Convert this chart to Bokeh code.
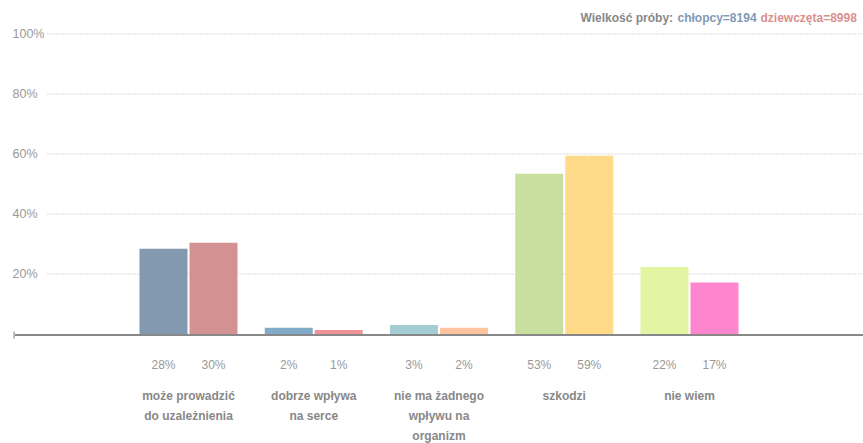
from bokeh.plotting import figure
from bokeh.models import ColumnDataSource, Range1d
from bokeh.core.properties import value
from bokeh.embed import file_html
from bokeh.resources import INLINE

# ---- data ----
categories = ["może prowadzić\ndo uzależnienia", "dobrze wpływa\nna serce",
              "nie ma żadnego\nwpływu na\norganizm", "szkodzi", "nie wiem"]
boys = [28.4, 2.1, 3.0, 53.4, 22.3]
girls = [30.4, 1.3, 2.1, 59.4, 17.2]
boys_labels = ["28%", "2%", "3%", "53%", "22%"]
girls_labels = ["30%", "1%", "2%", "59%", "17%"]
boys_colors = ["#8399B0", "#81ABC6", "#A3CDD3", "#C8DFA0", "#E3F4A2"]
girls_colors = ["#D39191", "#F0949A", "#FFC49E", "#FFDA88", "#FF85CE"]
y_ticks = [20, 40, 60, 80, 100]
y_tick_labels = ["20%", "40%", "60%", "80%", "100%"]
sample_parts = ["Wielkość próby:", "chłopcy=8194", "dziewczęta=8998"]
sample_colors = ["#888888", "#7F9AB5", "#D99090"]

# ---- layout constants (px -> data) ----
W, H = 863, 443
PX_X = 125.25          # px per category
C0 = 188               # first group center, px from figure left
PX_Y = 3.0             # px per percent
Z0 = 333.5             # zero line, px from figure top

def xd(px):            # figure-left px -> data x
    return (px - C0) / PX_X

def yd(px):            # figure-top px -> data y
    return (Z0 - px) / PX_Y

p = figure(width=W, height=H, output_backend="svg", toolbar_location=None,
           x_range=Range1d(xd(0), xd(W)), y_range=Range1d(yd(H), yd(0)),
           min_border=0, min_border_left=0, min_border_right=0,
           min_border_top=0, min_border_bottom=0)
p.axis.visible = False
p.grid.visible = False
p.outline_line_color = None
p.background_fill_color = "white"
p.border_fill_color = "white"

font = value("Liberation Sans")

# grid lines
n = len(y_ticks)
p.segment(x0=[xd(47)] * n, x1=[xd(W)] * n, y0=y_ticks, y1=y_ticks,
          line_color="#BBBBBB", line_width=1, line_dash="1 2")
p.text(x=[xd(12)] * n, y=y_ticks, text=y_tick_labels, text_font=font,
       text_font_size="12.5px", text_color="#999999", text_align="left",
       text_baseline="middle")

# bottom axis
p.segment(x0=[xd(13)], x1=[xd(W)], y0=[yd(334.6)], y1=[yd(334.6)],
          line_color="#888888", line_width=2)
p.segment(x0=[xd(13.5)], x1=[xd(13.5)], y0=[yd(331)], y1=[yd(338)],
          line_color="#BBBBBB", line_width=2)

# bars
idx = list(range(len(categories)))
bw = 48 / PX_X
off = 25 / PX_X
src_b = ColumnDataSource(dict(x=[i - off for i in idx], top=boys, c=boys_colors, lab=boys_labels))
src_g = ColumnDataSource(dict(x=[i + off for i in idx], top=girls, c=girls_colors, lab=girls_labels))
for s in (src_b, src_g):
    p.vbar(x="x", top="top", bottom=0, width=bw, fill_color="c", line_color=None, source=s)
    p.text(x="x", y=yd(364.5), text="lab", source=s, text_font=font,
           text_font_size="12px", text_color="#999999", text_align="center",
           text_baseline="middle")

# category labels
lx, ly, lt = [], [], []
for i, cat in enumerate(categories):
    for j, line in enumerate(cat.split("\n")):
        lx.append(i)
        ly.append(yd(395.5 + j * 20))
        lt.append(line)
p.text(x=lx, y=ly, text=lt, text_font=font, text_font_size="12px",
       text_font_style="bold", text_color="#888888", text_align="center",
       text_baseline="middle")

# sample size note (shifted slightly left so it is not cut at the edge)
starts = [580, 677, 760]
p.text(x=[xd(s) for s in starts], y=[yd(17)] * 3, text=sample_parts,
       text_color=sample_colors, text_font=font, text_font_size="12px",
       text_font_style="bold", text_align="left", text_baseline="middle")

open("out.html", "w").write(file_html(p, INLINE))
